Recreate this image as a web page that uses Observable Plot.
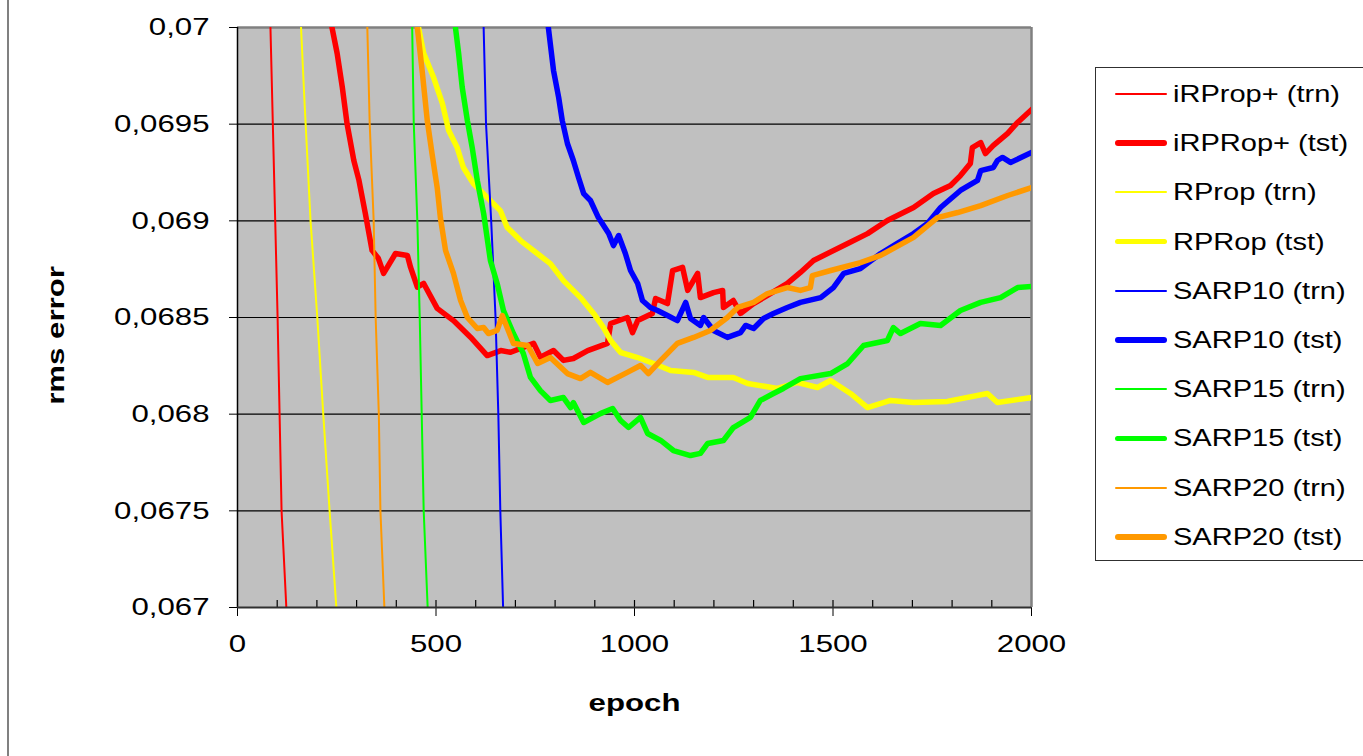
<!DOCTYPE html>
<html>
<head>
<meta charset="utf-8">
<script src="https://cdn.jsdelivr.net/npm/d3@7"></script>
<script src="https://cdn.jsdelivr.net/npm/@observablehq/plot@0.6"></script>
<style>
  html, body { margin: 0; padding: 0; background: #fff; }
  #wrap { position: relative; width: 1363px; height: 756px; overflow: hidden; font-family: "Liberation Sans", Arial, sans-serif; }
  #border { position: absolute; left: 7px; top: 0; width: 2px; height: 756px; background: #808080; }
  #legend { position: absolute; left: 1095px; top: 67px; width: 300px; height: 494px; border: 1px solid #303030; background: #fff; box-sizing: border-box; }
  .row { position: absolute; left: 0; height: 30px; display: flex; align-items: center; }
  .sw { position: absolute; left: 19px; width: 52px; border-radius: 3px; }
  .lt { position: absolute; left: 77px; white-space: nowrap; font-size: 24px; transform: scaleX(1.21); transform-origin: left center; color: #000; }
</style>
</head>
<body>
<div id="wrap"><div id="border"></div><div id="chart"></div><div id="legend"></div></div>
<script>
// ---- data (epoch, rms error) ----
const epochTicks = [0, 500, 1000, 1500, 2000];
const minorEpochTicks = [100,200,300,400,500,600,700,800,900,1000,1100,1200,1300,1400,1500,1600,1700,1800,1900];
const rmsTicks = [0.067, 0.0675, 0.068, 0.0685, 0.069, 0.0695, 0.07];
const rmsTickLabels = ["0,067", "0,0675", "0,068", "0,0685", "0,069", "0,0695", "0,07"];
const rmsGrid = [0.0675, 0.068, 0.0685, 0.069, 0.0695];

const iRPropTrn = [[83,0.07],[101,0.0685],[111,0.0675],[123,0.067]];
const iRPropTst = [[238,0.07],[251,0.069866],[264,0.069691],[276,0.069502],[293,0.069312],[306,0.069209],[322,0.069038],[339,0.068847],[355,0.068805],[368,0.068728],[398,0.068831],[428,0.068821],[436,0.068759],[453,0.068657],[469,0.068676],[503,0.068547],[544,0.068484],[587,0.068398],[629,0.068303],[663,0.068329],[688,0.06832],[746,0.068366],[763,0.068295],[796,0.068329],[821,0.068278],[846,0.068288],[882,0.068329],[932,0.068366],[940,0.068469],[982,0.0685],[995,0.068422],[1008,0.068484],[1045,0.068521],[1053,0.068598],[1083,0.068572],[1096,0.068743],[1121,0.068759],[1134,0.06864],[1159,0.068728],[1166,0.068603],[1199,0.068629],[1222,0.06864],[1224,0.068552],[1249,0.068588],[1267,0.068521],[1300,0.068572],[1335,0.068614],[1385,0.068676],[1418,0.068733],[1451,0.068795],[1537,0.068883],[1587,0.068934],[1637,0.069002],[1703,0.069069],[1753,0.069141],[1796,0.069183],[1821,0.069234],[1846,0.069297],[1851,0.069379],[1872,0.069405],[1884,0.069348],[1904,0.06939],[1940,0.069452],[1965,0.069509],[2000,0.069575]];
const rPropTrn = [[160,0.07],[169,0.069607],[184,0.069],[201,0.0685],[216,0.068],[232,0.0675],[249,0.067]];
const rPropTst = [[456,0.07],[469,0.069866],[494,0.069741],[516,0.069607],[532,0.069467],[553,0.069381],[569,0.069276],[594,0.069193],[629,0.069121],[662,0.069053],[679,0.068967],[713,0.068898],[755,0.068831],[788,0.068779],[821,0.068691],[864,0.068603],[897,0.068521],[922,0.068448],[940,0.068381],[965,0.068319],[1008,0.068293],[1048,0.068262],[1091,0.068226],[1149,0.068216],[1184,0.06819],[1249,0.06819],[1285,0.068159],[1360,0.068133],[1411,0.068164],[1461,0.068138],[1494,0.068174],[1544,0.068107],[1587,0.068034],[1645,0.068071],[1703,0.06806],[1788,0.068066],[1889,0.068107],[1914,0.06806],[2000,0.068086]];
const sarp10Trn = [[620,0.07],[626,0.069502],[639,0.069],[650,0.0685],[657,0.068],[662,0.0675],[669,0.067]];
const sarp10Tst = [[783,0.07],[796,0.069778],[809,0.069638],[818,0.069519],[831,0.0694],[846,0.069312],[859,0.069224],[872,0.069141],[889,0.069105],[909,0.069017],[914,0.069002],[935,0.068934],[947,0.068872],[960,0.068924],[977,0.068831],[990,0.068743],[1008,0.068676],[1020,0.068588],[1040,0.068552],[1058,0.068536],[1083,0.06851],[1108,0.068484],[1129,0.068578],[1141,0.068495],[1166,0.068459],[1174,0.0685],[1199,0.068433],[1234,0.068397],[1267,0.068422],[1280,0.068459],[1300,0.068443],[1325,0.068495],[1350,0.068521],[1385,0.068552],[1418,0.068578],[1469,0.068603],[1501,0.068655],[1527,0.068728],[1569,0.068753],[1620,0.068831],[1662,0.068883],[1703,0.068934],[1738,0.068986],[1771,0.069069],[1821,0.069157],[1864,0.069209],[1872,0.06926],[1904,0.069276],[1914,0.069312],[1927,0.069328],[1947,0.069302],[2000,0.069353]];
const sarp15Trn = [[440,0.07],[444,0.069502],[453,0.069],[459,0.0685],[464,0.068],[469,0.0675],[479,0.067]];
const sarp15Tst = [[549,0.07],[557,0.069866],[566,0.069691],[579,0.069519],[591,0.069381],[604,0.069209],[620,0.069038],[637,0.068795],[654,0.068676],[670,0.068536],[695,0.068417],[720,0.068314],[738,0.06819],[763,0.068122],[788,0.068071],[821,0.068086],[839,0.068034],[846,0.06806],[872,0.067957],[914,0.068003],[945,0.068029],[965,0.067967],[985,0.067931],[1015,0.067983],[1033,0.0679],[1066,0.067864],[1098,0.067812],[1141,0.067786],[1166,0.067797],[1184,0.067848],[1224,0.067864],[1249,0.067931],[1292,0.067983],[1317,0.068071],[1350,0.068107],[1375,0.068133],[1418,0.068184],[1494,0.06821],[1537,0.068262],[1577,0.068355],[1637,0.068381],[1652,0.068448],[1670,0.068417],[1720,0.068469],[1771,0.068459],[1821,0.068536],[1872,0.068578],[1922,0.068603],[1965,0.068655],[2000,0.06866]];
const sarp20Trn = [[327,0.07],[333,0.069502],[343,0.069],[348,0.0685],[356,0.068],[360,0.0675],[370,0.067]];
const sarp20Tst = [[453,0.07],[465,0.069778],[478,0.069519],[490,0.069348],[503,0.069172],[511,0.069017],[524,0.068847],[544,0.068728],[562,0.068588],[579,0.0685],[604,0.068443],[620,0.068448],[632,0.068417],[654,0.068433],[667,0.06851],[679,0.068448],[695,0.068366],[731,0.068355],[756,0.068262],[788,0.068293],[831,0.06821],[864,0.068184],[889,0.068216],[932,0.068164],[982,0.068216],[1015,0.068252],[1035,0.06821],[1066,0.068278],[1108,0.068366],[1149,0.068397],[1191,0.068433],[1234,0.0685],[1260,0.068552],[1300,0.068578],[1335,0.068624],[1385,0.068655],[1418,0.06864],[1443,0.068655],[1448,0.068717],[1494,0.068743],[1569,0.068784],[1620,0.068821],[1703,0.068914],[1763,0.069017],[1814,0.069043],[1872,0.069079],[1940,0.069131],[2000,0.069172]];

const seriesNames = ["iRProp+ (trn)", "iRPRop+ (tst)", "RProp (trn)", "RPRop (tst)", "SARP10 (trn)", "SARP10 (tst)", "SARP15 (trn)", "SARP15 (tst)", "SARP20 (trn)", "SARP20 (tst)"];
const seriesData = [iRPropTrn, iRPropTst, rPropTrn, rPropTst, sarp10Trn, sarp10Tst, sarp15Trn, sarp15Tst, sarp20Trn, sarp20Tst];

// ---- styles ----
const seriesColors = ["#FF0000", "#FF0000", "#FFFF00", "#FFFF00", "#0000FF", "#0000FF", "#00FF00", "#00FF00", "#FF9900", "#FF9900"];
const seriesWidths = [2, 5.5, 2, 5.5, 2, 5.5, 2, 5.5, 2, 5.5];

const lineMarks = seriesData.map((data, i) => Plot.line(data, {
  x: d => d[0], y: d => d[1], stroke: seriesColors[i], strokeWidth: seriesWidths[i],
  strokeLinejoin: "round", strokeLinecap: "round", clip: true
}));

const chart = Plot.plot({
  width: 1363, height: 756,
  marginLeft: 237, marginRight: 332, marginTop: 27, marginBottom: 149,
  style: { background: "transparent", fontFamily: "'Liberation Sans', Arial, sans-serif", fontSize: "24px", color: "#000", overflow: "visible" },
  x: { domain: [0, 2000], ticks: epochTicks, tickFormat: d => String(d), tickSize: 9, tickPadding: 18, label: null },
  y: { domain: [0.067, 0.07], ticks: rmsTicks, tickFormat: d => rmsTickLabels[rmsTicks.indexOf(d)], tickSize: 8, tickPadding: 20, label: null },
  marks: [
    Plot.frame({ fill: "#C0C0C0", stroke: null }),
    Plot.ruleY(rmsGrid, { stroke: "#000", strokeWidth: 1.2 }),
    Plot.ruleY([0.07], { stroke: "#808080", strokeWidth: 2.5 }),
    Plot.ruleX([2000], { stroke: "#808080", strokeWidth: 2.5 }),
    ...lineMarks,
    Plot.ruleX(minorEpochTicks, { stroke: "#000", strokeWidth: 1.2, insetTop: 573 }),
    Plot.ruleX([0], { stroke: "#000", strokeWidth: 1.5 }),
    Plot.ruleY([0.067], { stroke: "#303030", strokeWidth: 2 }),
    Plot.text(["epoch"], { frameAnchor: "bottom", dy: 96, text: d => d, fontWeight: "bold", fontSize: 24, textAnchor: "middle", lineAnchor: "middle" }),
    Plot.text(["rms error"], { frameAnchor: "left", dx: -181, dy: 18, text: d => d, fontWeight: "bold", fontSize: 24, rotate: -90, textAnchor: "middle", lineAnchor: "middle" })
  ]
});
document.getElementById("chart").appendChild(chart);

// widen the texts horizontally (in their own frame) like the original rendering
d3.select(chart).selectAll("g[aria-label$='tick label'] text, g[aria-label='text'] text").each(function() {
  const t = this.getAttribute("transform") || "";
  this.setAttribute("transform", t + " scale(1.3,1)");
});

// legend
const legend = d3.select("#legend");
seriesNames.forEach((name, i) => {
  const row = legend.append("div").attr("class", "row").style("top", (26 + i * 49.2 - 15) + "px").style("width", "100%");
  row.append("div").attr("class", "sw")
    .style("top", (15 - seriesWidths[i] / 2) + "px")
    .style("height", seriesWidths[i] + "px")
    .style("background", seriesColors[i]);
  row.append("span").attr("class", "lt").text(name);
});
</script>
</body>
</html>
